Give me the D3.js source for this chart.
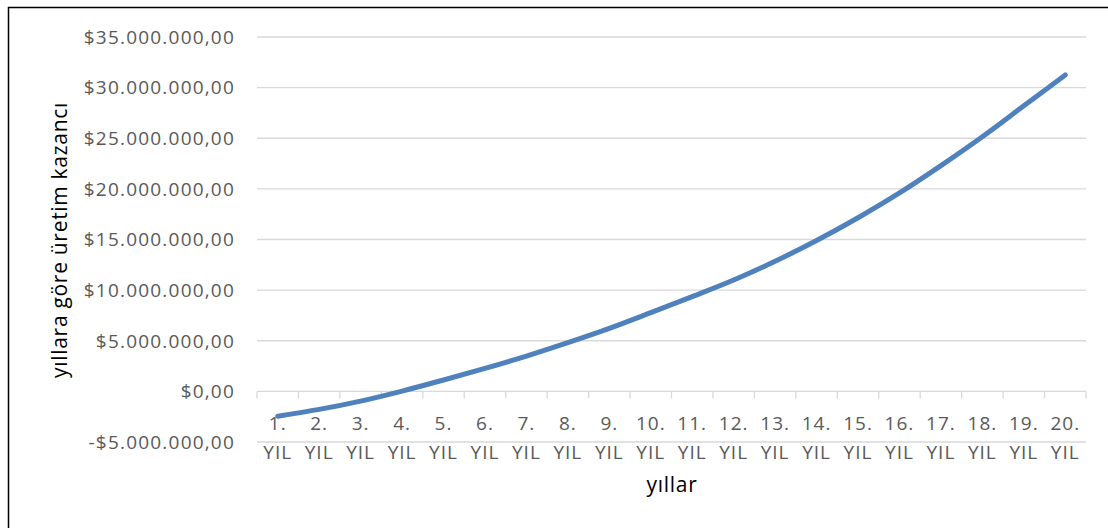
<!DOCTYPE html>
<html><head><meta charset="utf-8">
<script src="https://cdn.jsdelivr.net/npm/d3@7"></script>
<style>body{margin:0;background:#fff;} svg{display:block;}</style>
</head><body>
<svg id="chart" width="1108" height="528"></svg>
<script>
const categories = ["1. YIL","2. YIL","3. YIL","4. YIL","5. YIL","6. YIL","7. YIL","8. YIL","9. YIL","10. YIL",
  "11. YIL","12. YIL","13. YIL","14. YIL","15. YIL","16. YIL","17. YIL","18. YIL","19. YIL","20. YIL"];
const values = [-2450000,-1780000,-960000,30000,1120000,2270000,3490000,4810000,6220000,7770000,
  9360000,11000000,12850000,14900000,17150000,19600000,22300000,25150000,28200000,31250000];
const yTicks = [-5000000,0,5000000,10000000,15000000,20000000,25000000,30000000,35000000];
const yTitle = "yıllara göre üretim kazancı";
const xTitle = "yıllar";

const svg = d3.select("#chart");
const font = "'Open Sans', sans-serif";
const L = 257, R = 1086, T = 37, B = 442;

// frame
svg.append("rect").attr("x",8.5).attr("y",7.5).attr("width",1200).attr("height",600)
  .attr("fill","none").attr("stroke","#000").attr("stroke-width",1.5);

const x = d3.scaleBand().domain(categories).range([L,R]).padding(0);
const y = d3.scaleLinear().domain([-5000000,35000000]).range([B,T]);

const fmt = v => {
  const s = d3.format(",.2f")(Math.abs(v)).replace(/,/g,"#").replace(".",",").replace(/#/g,".");
  return (v<0?"-":"")+"$"+s;
};

// gridlines
const grid = svg.append("g");
grid.selectAll("line").data(yTicks).join("line")
  .attr("x1",L).attr("x2",R).attr("y1",d=>y(d)).attr("y2",d=>y(d))
  .attr("stroke","#d9d9d9").attr("stroke-width",1.3);

// y labels
svg.append("g").selectAll("text").data(yTicks).join("text")
  .attr("x",235).attr("y",d=>y(d)).attr("dy","0.36em").attr("text-anchor","end")
  .attr("font-family",font).attr("font-size",19).attr("letter-spacing","1.2px").attr("fill","#595959").text(fmt);

// x axis at zero with ticks at band boundaries
const y0 = y(0);
const bounds = categories.map(c=>x(c)).concat([R]);
svg.append("g").selectAll("line").data(bounds).join("line")
  .attr("x1",d=>d).attr("x2",d=>d).attr("y1",y0).attr("y2",y0+7)
  .attr("stroke","#d9d9d9").attr("stroke-width",1.3);

// x labels (wrapped)
const xl = svg.append("g").selectAll("text").data(categories).join("text")
  .attr("text-anchor","middle").attr("font-family",font).attr("font-size",19).attr("letter-spacing","1px").attr("fill","#595959");
xl.append("tspan").attr("x",d=>x(d)+x.bandwidth()/2).attr("y",430).text(d=>d.split(" ")[0]);
xl.append("tspan").attr("x",d=>x(d)+x.bandwidth()/2).attr("y",459).text(d=>d.split(" ")[1]);

// line
const line = d3.line().x((d,i)=>x(categories[i])+x.bandwidth()/2).y(d=>y(d)).curve(d3.curveMonotoneX);
svg.append("path").datum(values).attr("d",line).attr("fill","none")
  .attr("stroke","#4f81bd").attr("stroke-width",5).attr("stroke-linecap","round").attr("stroke-linejoin","round");

// titles
svg.append("text").attr("transform","translate(67,240) rotate(-90)").attr("text-anchor","middle")
  .attr("font-family",font).attr("font-size",21).attr("letter-spacing","0.7px").attr("fill","#000").text(yTitle);
svg.append("text").attr("x",672).attr("y",492).attr("text-anchor","middle")
  .attr("font-family",font).attr("font-size",21).attr("letter-spacing","0.7px").attr("fill","#000").text(xTitle);
</script>
</body></html>
